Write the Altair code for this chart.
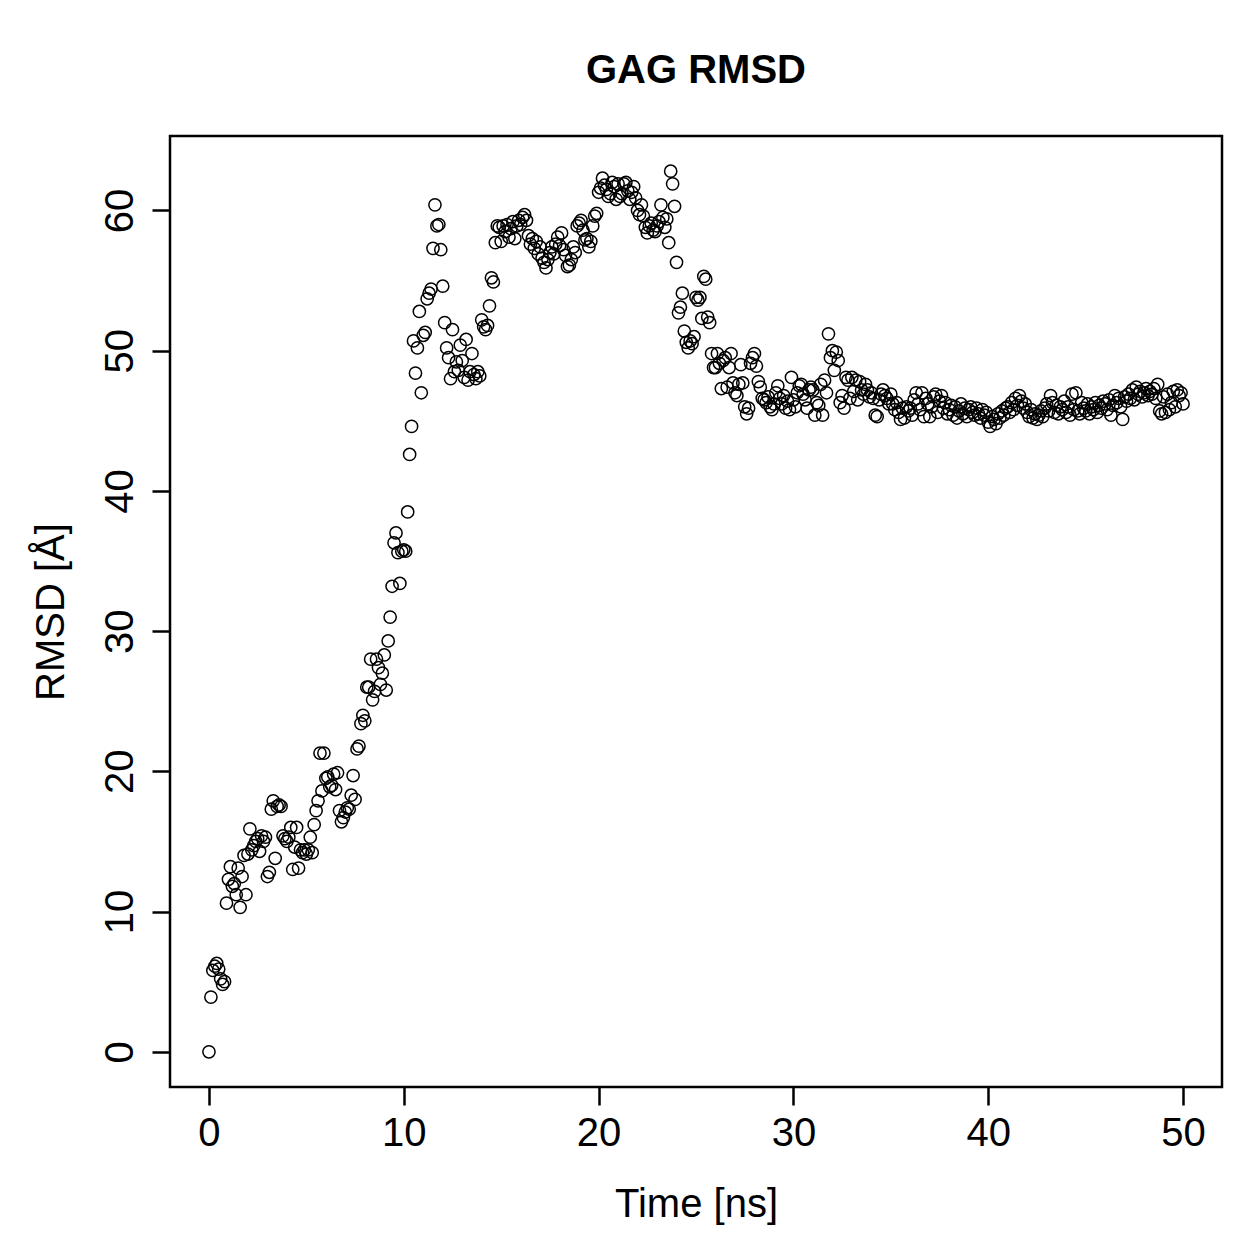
import altair as alt
import pandas as pd

# RMSD of the GAG chain, one frame every 0.1 ns (angstrom)
rmsd_0_10 = [
    0.0, 3.9, 5.8, 6.1, 6.3, 5.9, 5.2, 4.8, 5.0, 10.6,
    12.3, 13.2, 11.8, 12.0, 11.2, 13.1, 10.3, 12.5, 14.0, 11.2,
    14.1, 15.9, 14.4, 14.7, 15.0, 15.2, 14.3, 15.4, 15.0, 15.3,
    12.5, 12.8, 17.3, 17.9, 13.8, 17.5, 17.6, 17.5, 15.4, 15.2,
    15.0, 15.3, 16.0, 13.0, 14.6, 16.0, 13.1, 14.4, 14.2, 14.4,
    14.1, 14.4, 15.3, 14.2, 16.2, 17.2, 17.9, 21.3, 18.6, 21.3,
    19.5, 19.6, 18.9, 19.0, 19.8, 18.7, 19.9, 17.2, 16.4, 16.7,
    17.1, 17.4, 17.3, 18.3, 19.7, 18.0, 21.6, 21.8, 23.4, 24.0,
    23.6, 26.0, 26.0, 28.0, 25.1, 25.7, 28.0, 27.4, 26.2, 27.0,
    28.3, 25.8, 29.3, 31.0, 33.2, 36.3, 37.0, 35.6, 33.4, 35.7,
]
rmsd_10_20 = [
    35.8, 35.7, 38.5, 42.6, 44.6, 50.7, 48.4, 50.2, 52.8, 47.0,
    51.1, 51.3, 53.7, 54.1, 54.4, 57.3, 60.4, 58.9, 59.0, 57.2,
    54.6, 52.0, 50.2, 49.5, 48.0, 51.5, 48.5, 49.2, 48.6, 50.4,
    49.3, 48.1, 50.8, 47.9, 48.5, 49.8, 48.3, 48.0, 48.5, 48.2,
    52.2, 51.7, 51.5, 51.8, 53.2, 55.2, 54.9, 57.7, 58.9, 58.8,
    57.8, 58.9, 58.5, 59.0, 58.1, 58.7, 59.2, 58.0, 58.9, 59.3,
    59.0, 59.5, 59.7, 59.3, 58.2, 57.6, 58.0, 57.3, 57.8, 56.9,
    57.4, 56.6, 56.3, 55.9, 56.5, 57.0, 57.4, 56.9, 57.6, 58.1,
    57.5, 58.4, 57.2, 56.8, 56.0, 56.1, 56.5, 57.4, 57.0, 58.9,
    59.1, 59.3, 58.6, 57.9, 58.0, 57.4, 57.8, 58.9, 59.6, 59.8,
]
rmsd_20_30 = [
    61.3, 61.6, 62.3, 61.8, 61.5, 61.0, 61.2, 62.0, 61.7, 60.8,
    61.9, 61.0, 61.2, 61.9, 62.0, 61.4, 60.8, 61.3, 61.7, 60.9,
    60.0, 59.7, 60.4, 59.6, 58.8, 58.4, 58.9, 59.1, 58.6, 58.5,
    58.9, 59.2, 60.4, 59.5, 58.8, 59.4, 57.7, 62.8, 61.9, 60.3,
    56.3, 52.7, 53.1, 54.1, 51.4, 50.6, 50.2, 50.7, 50.5, 51.0,
    53.8, 53.6, 53.8, 52.3, 55.3, 55.1, 52.4, 52.0, 49.8, 48.8,
    48.8, 49.8, 49.1, 47.3, 49.3, 49.5, 47.4, 48.8, 49.8, 47.7,
    47.0, 46.8, 47.6, 49.0, 47.7, 46.0, 45.5, 45.9, 49.1, 49.5,
    49.8, 48.9, 47.8, 47.4, 46.6, 46.5, 46.3, 46.7, 46.0, 45.8,
    46.2, 47.0, 47.5, 46.6, 46.2, 46.8, 45.9, 46.4, 45.8, 48.1,
]
rmsd_30_40 = [
    46.5, 46.0, 47.0, 47.5, 47.6, 46.9, 46.5, 45.9, 47.2, 47.4,
    47.2, 45.4, 46.3, 46.1, 47.6, 45.4, 47.9, 47.0, 51.2, 49.5,
    50.0, 48.6, 49.9, 49.3, 46.3, 46.8, 45.9, 48.1, 47.9, 46.6,
    48.1, 47.1, 47.9, 46.5, 47.8, 47.2, 46.9, 47.6, 47.2, 46.7,
    47.0, 46.6, 45.4, 45.3, 46.5, 46.9, 47.2, 46.8, 46.6, 46.2,
    46.9, 46.2, 45.8, 46.3, 45.6, 45.1, 45.9, 45.2, 46.0, 45.7,
    45.9, 45.4, 46.5, 47.0, 46.2, 45.8, 47.0, 45.3, 46.6, 46.2,
    45.3, 46.0, 46.7, 46.9, 45.6, 46.4, 46.8, 45.9, 46.3, 45.5,
    45.8, 46.1, 45.4, 46.0, 45.2, 45.7, 46.2, 45.5, 45.9, 45.3,
    45.8, 46.0, 45.6, 45.4, 45.9, 45.5, 45.2, 45.8, 45.4, 45.6,
]
rmsd_40_50 = [
    44.9, 44.6, 45.3, 45.1, 44.8, 45.5, 45.2, 45.7, 45.4, 45.9,
    46.0, 45.6, 46.3, 45.8, 46.6, 46.1, 46.8, 46.4, 45.9, 46.2,
    45.6, 45.3, 45.8, 45.2, 45.5, 45.1, 45.4, 45.7, 45.3, 45.9,
    46.2, 45.7, 46.8, 46.3, 45.6, 46.1, 45.5, 46.0, 45.8, 46.4,
    45.6, 46.0, 45.4, 46.9, 45.8, 47.0, 45.7, 45.5, 46.3, 45.9,
    45.7, 46.2, 45.5, 46.0, 45.8, 46.3, 45.6, 46.1, 45.9, 46.4,
    46.2, 45.8, 46.5, 45.4, 46.1, 46.8, 46.3, 46.6, 46.0, 45.1,
    46.7, 46.4, 46.9, 46.6, 47.2, 46.5, 47.4, 46.9, 47.1, 46.7,
    47.0, 47.3, 46.8, 47.1, 46.9, 47.3, 46.6, 47.6, 45.7, 45.5,
    46.7, 45.6, 46.9, 45.8, 46.3, 47.1, 46.0, 47.2, 46.8, 47.0,
    46.2,
]

rmsd = rmsd_0_10 + rmsd_10_20 + rmsd_20_30 + rmsd_30_40 + rmsd_40_50
time_ns = [i / 10 for i in range(len(rmsd))]

x_ticks = [0, 10, 20, 30, 40, 50]
y_ticks = [0, 10, 20, 30, 40, 50, 60]


def padded(values, frac=0.04):
    lo, hi = min(values), max(values)
    pad = (hi - lo) * frac
    return [lo - pad, hi + pad]


df = pd.DataFrame({"time": time_ns, "rmsd": rmsd})

FONT = "Liberation Sans"
W, H = 1052, 951

chart = (
    alt.Chart(df)
    .mark_point(shape="circle", filled=False, color="black", size=150,
                strokeWidth=1.5, opacity=1)
    .encode(
        x=alt.X(
            "time:Q",
            scale=alt.Scale(domain=padded(time_ns), nice=False, zero=False),
            axis=alt.Axis(
                values=x_ticks, title="Time [ns]", labelPadding=8,
                titleX=W / 2, titleY=129, titleBaseline="alphabetic",
                titleAlign="center",
            ),
        ),
        y=alt.Y(
            "rmsd:Q",
            scale=alt.Scale(domain=padded(rmsd), nice=False, zero=False),
            axis=alt.Axis(
                values=y_ticks, title="RMSD [Å]", labelAngle=270,
                labelAlign="center", labelBaseline="bottom", labelPadding=12,
                titleAngle=270, titleX=-107, titleY=H / 2,
                titleBaseline="alphabetic", titleAlign="center",
            ),
        ),
    )
    .properties(
        width=W,
        height=H,
        background="white",
        title=alt.TitleParams(
            "GAG RMSD", font=FONT, fontSize=40, fontWeight="bold",
            color="black", anchor="middle", baseline="alphabetic", offset=13,
        ),
        autosize=alt.AutoSizeParams(type="none"),
        padding={"left": 170, "top": 136, "right": 37, "bottom": 172},
    )
    .configure_view(stroke="black", strokeWidth=2.5)
    .configure_axis(
        domain=False, grid=False, ticks=True, tickSize=18, tickWidth=2.5,
        tickColor="black", labelFont=FONT, labelFontSize=40,
        labelColor="black", titleFont=FONT, titleFontSize=40,
        titleFontWeight="normal", titleColor="black",
    )
)

chart.save("out.html", embed_options={"renderer": "svg", "actions": False})
